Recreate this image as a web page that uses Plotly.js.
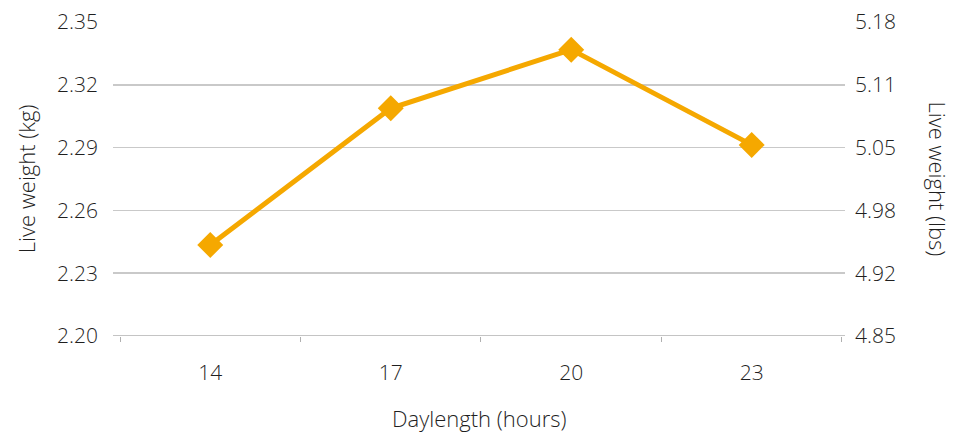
<!DOCTYPE html>
<html>
<head>
<meta charset="utf-8">
<script src="https://cdn.plot.ly/plotly-3.0.1.min.js"></script>
<style>html,body{margin:0;padding:0;background:#fff;}#chart{width:959px;height:434px;}</style>
</head>
<body>
<div id="chart"></div>
<script>
const daylength = ["14", "17", "20", "23"];
const liveWeightKg = [2.2435, 2.3088, 2.3368, 2.2913];
const kgTicks = [2.20, 2.23, 2.26, 2.29, 2.32, 2.35];
const kgTickLabels = ["2.20", "2.23", "2.26", "2.29", "2.32", "2.35"];
const lbsTickLabels = ["4.85", "4.92", "4.98", "5.05", "5.11", "5.18"];

const FONT = "Open Sans, Lato, sans-serif";
const TXT = "#1f1f1f";
const ORANGE = "#F5A800";
const TICKSIZE = 21;
const TITLESIZE = 22;
const W = 300;

const traces = [
  {
    x: daylength, y: liveWeightKg, type: "scatter", mode: "lines+markers",
    line: {color: ORANGE, width: 5},
    marker: {symbol: "diamond", size: 20, color: ORANGE},
    xaxis: "x", yaxis: "y", showlegend: false, hoverinfo: "x+y"
  },
  {
    x: daylength, y: liveWeightKg, type: "scatter", mode: "none",
    xaxis: "x", yaxis: "y2", showlegend: false, hoverinfo: "skip"
  }
];

const layout = {
  width: 959, height: 434,
  margin: {l: 113, r: 114, t: 21.5, b: 97.5},
  paper_bgcolor: "#fff", plot_bgcolor: "#fff",
  font: {family: FONT, size: TICKSIZE, color: TXT, weight: W},
  xaxis: {
    type: "category", range: [-0.539, 3.517],
    showgrid: false, zeroline: false,
    showline: false,
    ticks: "outside", tickson: "boundaries", ticklen: 5, tickwidth: 1, tickcolor: "#b0b0b0",
    ticklabelstandoff: 22,
    tickfont: {family: FONT, size: TICKSIZE, color: TXT, weight: W},
    fixedrange: true
  },
  yaxis: {
    range: [2.20, 2.35], tickvals: kgTicks, ticktext: kgTickLabels,
    showgrid: true, gridcolor: "#c9c9c9", gridwidth: 1.5,
    zeroline: false, showline: false, ticks: "",
    ticklabelstandoff: 14,
    tickfont: {family: FONT, size: TICKSIZE, color: TXT, weight: W},
    fixedrange: true
  },
  yaxis2: {
    overlaying: "y", side: "right",
    range: [2.20, 2.35], tickvals: kgTicks, ticktext: lbsTickLabels,
    showgrid: false, zeroline: false, showline: false, ticks: "",
    ticklabelstandoff: 9,
    tickfont: {family: FONT, size: TICKSIZE, color: TXT, weight: W},
    fixedrange: true
  },
  shapes: [
    {type: "line", xref: "paper", yref: "y", x0: 0, x1: 1, y0: 2.20, y1: 2.20,
     line: {color: "#b0b0b0", width: 1.5}}
  ],
  annotations: [
    {text: "Live weight (kg)", xref: "paper", yref: "paper", x: -0.1185, y: 0.5,
     xanchor: "center", yanchor: "middle", textangle: -90, showarrow: false,
     font: {family: FONT, size: TITLESIZE, color: TXT, weight: W}},
    {text: "Live weight (lbs)", xref: "paper", yref: "paper", x: 1.1265, y: 0.5,
     xanchor: "center", yanchor: "middle", textangle: 90, showarrow: false,
     font: {family: FONT, size: TITLESIZE, color: TXT, weight: W}},
    {text: "Daylength (hours)", xref: "paper", yref: "paper", x: 0.5, y: -0.26,
     xanchor: "center", yanchor: "middle", showarrow: false,
     font: {family: FONT, size: TITLESIZE, color: TXT, weight: W}}
  ]
};

Plotly.newPlot("chart", traces, layout, {displayModeBar: false, staticPlot: true});
</script>
</body>
</html>
